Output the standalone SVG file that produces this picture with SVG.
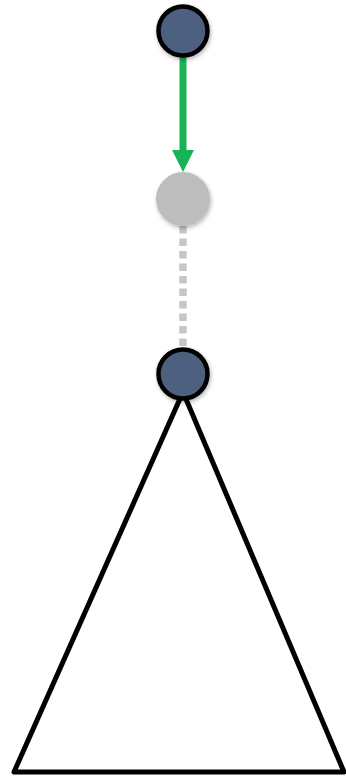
<svg xmlns="http://www.w3.org/2000/svg" width="346" height="777" viewBox="0 0 346 777">
<style>
.node{fill:#4e6080;stroke:#000;stroke-width:4.5}
.ghost{fill:#bdbdbd}
.tri{fill:none;stroke:#000;stroke-width:5;stroke-linejoin:round}
</style>
<defs>
<filter id="sh" x="-30%" y="-30%" width="160%" height="160%">
<feGaussianBlur in="SourceAlpha" stdDeviation="2"/>
<feOffset dx="1" dy="2"/>
<feComponentTransfer><feFuncA type="linear" slope="0.3"/></feComponentTransfer>
<feMerge><feMergeNode/><feMergeNode in="SourceGraphic"/></feMerge>
</filter>
</defs>
<g id="connectors">
<line x1="183" y1="56" x2="183" y2="150" stroke="#17b355" stroke-width="7"/>
<path d="M172,150 L194,150 L183,172 Z" fill="#17b355"/>
<line x1="183" y1="226" x2="183" y2="348" stroke="#c6c6c6" stroke-width="7.5" stroke-dasharray="7.5,5"/>
</g>
<g id="subtree">
<path class="tri" d="M183,392 L14,772 L344,772 Z"/>
</g>
<g id="node-top" filter="url(#sh)">
<circle class="node" cx="183" cy="31" r="24.5"/>
</g>
<g id="node-ghost" filter="url(#sh)">
<circle class="ghost" cx="183" cy="199" r="27"/>
</g>
<g id="node-bottom" filter="url(#sh)">
<circle class="node" cx="183" cy="374" r="24.5"/>
</g>
</svg>
